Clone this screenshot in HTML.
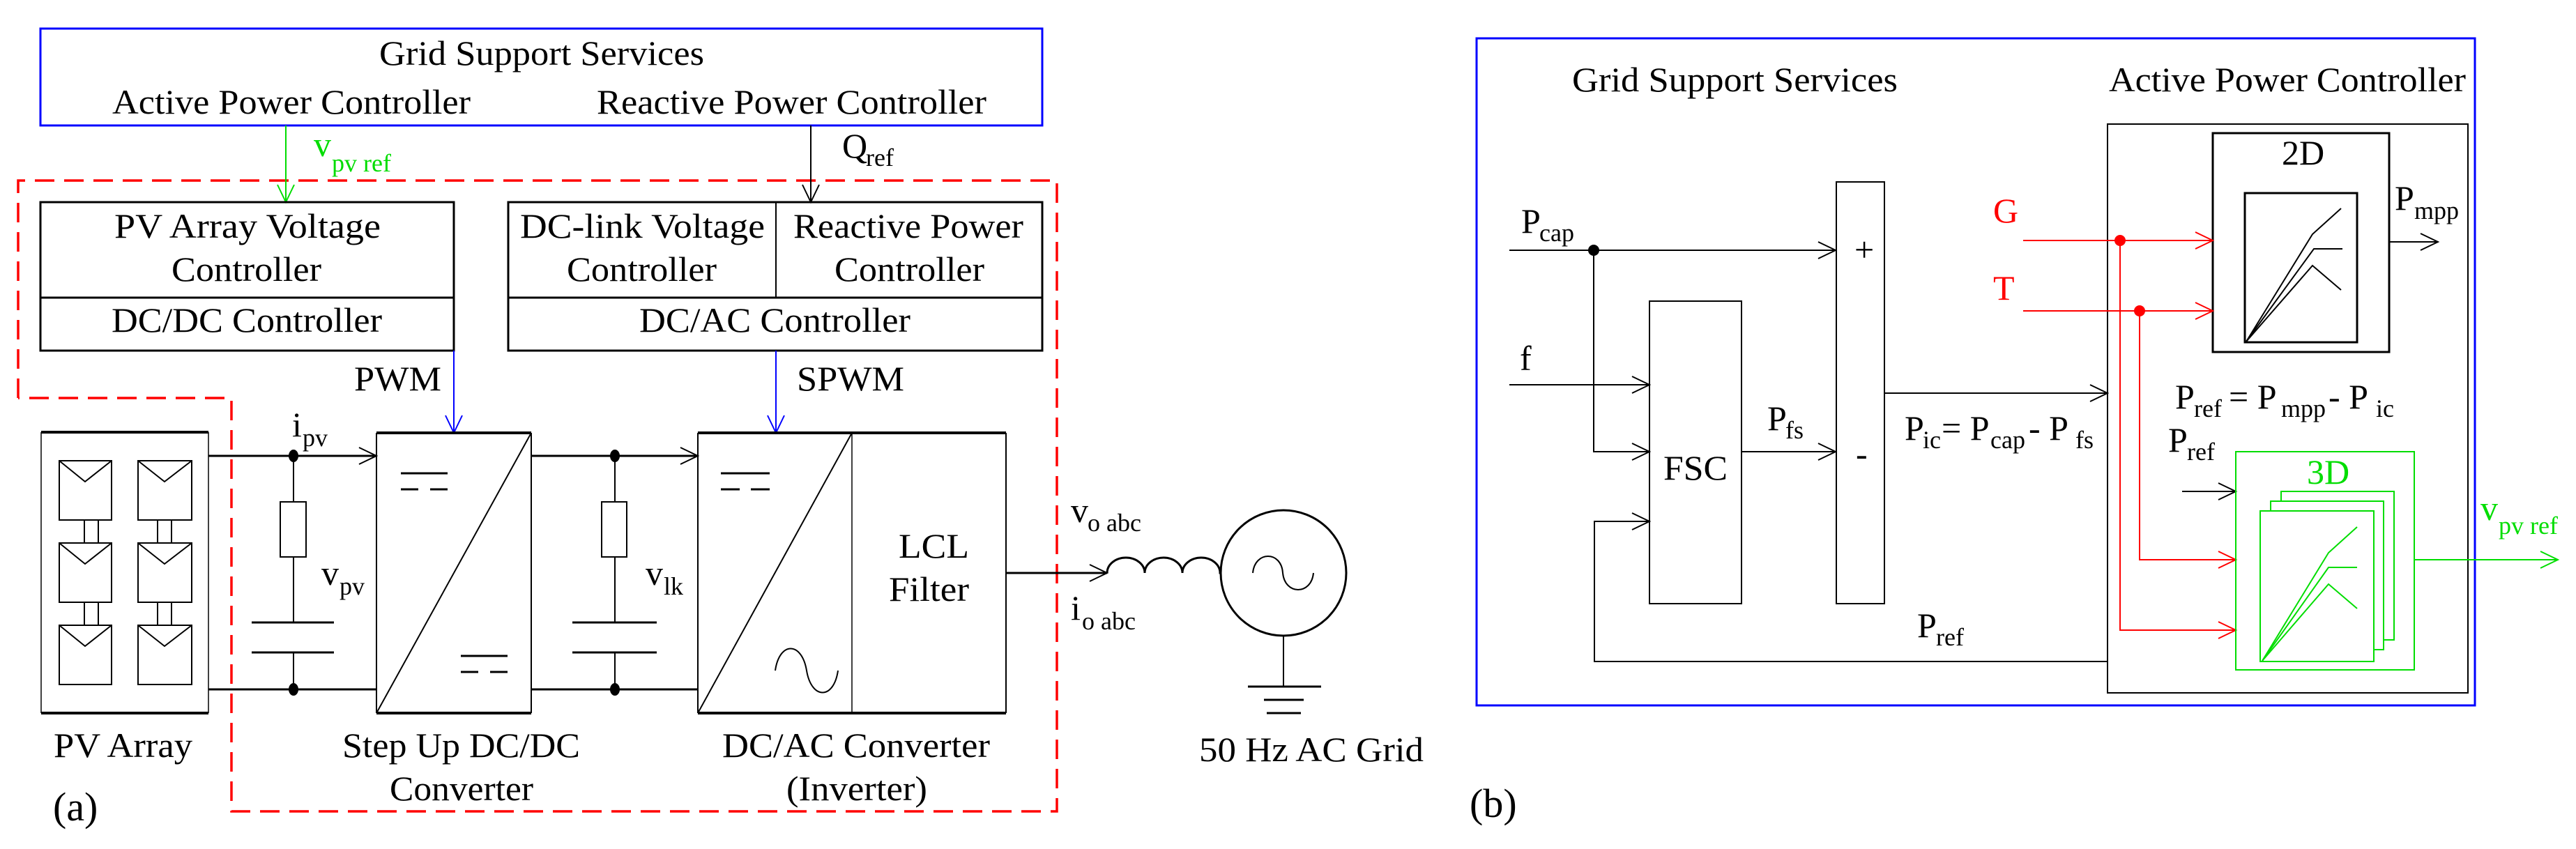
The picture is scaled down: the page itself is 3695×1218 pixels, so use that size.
<!DOCTYPE html>
<html><head><meta charset="utf-8"><style>html,body{margin:0;padding:0;background:#fff}svg{display:block}svg text{font-family:"Liberation Serif","Times New Roman",serif}</style></head>
<body>
<svg width="3695" height="1218" viewBox="0 0 3695 1218" xmlns="http://www.w3.org/2000/svg" style="font-family:'Liberation Serif',serif" font-size="50">
<rect width="3695" height="1218" fill="#fff"/>
<g fill="none" stroke-linecap="butt">
<rect x="58" y="41" width="1437" height="139" stroke="#0000ff" stroke-width="3"/>
<path d="M26 571 V259 H1516 V1164 H332 V571 H26" stroke="#ff0000" stroke-width="3.5" stroke-dasharray="28,14"/>
<line x1="410" y1="180" x2="410" y2="290" stroke="#00dd00" stroke-width="2"/>
<path d="M398 265 L410 290 L422 265" stroke="#00dd00" stroke-width="2"/>
<line x1="1163" y1="180" x2="1163" y2="290" stroke="#000" stroke-width="2"/>
<path d="M1151 265 L1163 290 L1175 265" stroke="#000" stroke-width="2"/>
<rect x="58" y="290" width="593" height="213" stroke="#000" stroke-width="3"/>
<line x1="58" y1="427" x2="651" y2="427" stroke="#000" stroke-width="3"/>
<rect x="729" y="290" width="766" height="213" stroke="#000" stroke-width="3"/>
<line x1="729" y1="427" x2="1495" y2="427" stroke="#000" stroke-width="3"/>
<line x1="1113" y1="290" x2="1113" y2="427" stroke="#000" stroke-width="2"/>
<line x1="651" y1="503" x2="651" y2="621" stroke="#0000ff" stroke-width="2"/>
<path d="M639 596 L651 621 L663 596" stroke="#0000ff" stroke-width="2"/>
<line x1="1113" y1="503" x2="1113" y2="621" stroke="#0000ff" stroke-width="2"/>
<path d="M1101 596 L1113 621 L1125 596" stroke="#0000ff" stroke-width="2"/>
<line x1="59" y1="620" x2="59" y2="1023" stroke="#000" stroke-width="1.5"/>
<line x1="299" y1="620" x2="299" y2="1023" stroke="#000" stroke-width="1.5"/>
<line x1="59" y1="620" x2="299" y2="620" stroke="#000" stroke-width="4"/>
<line x1="59" y1="1023" x2="299" y2="1023" stroke="#000" stroke-width="4"/>
<g stroke="#000" stroke-width="2">
<rect x="85" y="661" width="75" height="85"/><path d="M85 661 L122 691 L160 661"/>
<rect x="85" y="779" width="75" height="85"/><path d="M85 779 L122 809 L160 779"/>
<rect x="85" y="897" width="75" height="85"/><path d="M85 897 L122 927 L160 897"/>
<rect x="198" y="661" width="77" height="85"/><path d="M198 661 L236 691 L275 661"/>
<rect x="198" y="779" width="77" height="85"/><path d="M198 779 L236 809 L275 779"/>
<rect x="198" y="897" width="77" height="85"/><path d="M198 897 L236 927 L275 897"/>
<path d="M121 746 V779 M141 746 V779 M121 864 V897 M141 864 V897"/>
<path d="M226 746 V779 M246 746 V779 M226 864 V897 M246 864 V897"/>
</g>
<g stroke="#000" stroke-width="3">
<line x1="299" y1="654" x2="540" y2="654"/><path d="M515 642 L540 654 L515 666" stroke-width="2"/>
<line x1="299" y1="989" x2="540" y2="989"/>
<line x1="762" y1="654" x2="1001" y2="654"/><path d="M976 642 L1001 654 L976 666" stroke-width="2"/>
<line x1="762" y1="989" x2="1001" y2="989"/>
</g>
<g stroke="#000" stroke-width="2">
<path d="M421 654 V720 M421 799 V893 M421 936 V989"/>
<rect x="402" y="720" width="37" height="79"/>
<path d="M882 654 V720 M882 799 V893 M882 936 V989"/>
<rect x="863" y="720" width="36" height="79"/>
</g>
<g stroke="#000" stroke-width="3">
<path d="M361 893 H479 M361 936 H479 M821 893 H942 M821 936 H942"/>
</g>
<g fill="#000"><ellipse cx="421" cy="654" rx="7" ry="9"/><ellipse cx="421" cy="989" rx="7" ry="9"/><ellipse cx="882" cy="654" rx="7" ry="9"/><ellipse cx="882" cy="989" rx="7" ry="9"/></g>
<g stroke="#000">
<path d="M540 621 V1023 M762 621 V1023" stroke-width="2"/>
<path d="M540 621 H762 M540 1023 H762" stroke-width="4"/>
<line x1="540" y1="1023" x2="762" y2="621" stroke-width="2"/>
<path d="M575 679 H642 M661 941 H728" stroke-width="3"/>
<path d="M575 702 H642 M661 964 H728" stroke-width="3" stroke-dasharray="25,17"/>
<path d="M1001 621 V1023 M1443 621 V1023" stroke-width="2"/>
<path d="M1001 621 H1443 M1001 1023 H1443" stroke-width="4"/>
<line x1="1222" y1="621" x2="1222" y2="1023" stroke-width="1.5"/>
<line x1="1001" y1="1023" x2="1222" y2="621" stroke-width="2"/>
<path d="M1034 679 H1104" stroke-width="3"/>
<path d="M1034 702 H1104" stroke-width="3" stroke-dasharray="27,16"/>
<path d="M1112 962 C1118 920 1150 920 1157 962 C1164 1004 1196 1004 1202 962" stroke-width="2"/>
<line x1="1443" y1="822" x2="1588" y2="822" stroke-width="3"/>
<path d="M1563 810 L1588 822 L1563 834" stroke-width="2"/>
<path d="M1588 822 A27 22 0 0 1 1642 822 A27 22 0 0 1 1696 822 A27 22 0 0 1 1750 822 H1751" stroke-width="3"/>
<circle cx="1841" cy="822" r="90" stroke-width="3"/>
<path d="M1797 822 C1800 790 1838 790 1840 822 C1843 854 1881 854 1884 822" stroke-width="2"/>
<line x1="1841" y1="912" x2="1841" y2="985" stroke-width="2"/>
<path d="M1790 985 H1895 M1813 1004 H1870 M1817 1023 H1866" stroke-width="3"/>
</g>
<rect x="2118" y="55" width="1432" height="957" stroke="#0000ff" stroke-width="3"/>
<rect x="3023" y="178" width="517" height="816" stroke="#000" stroke-width="2"/>
<rect x="3174" y="191" width="253" height="314" stroke="#000" stroke-width="3"/>
<rect x="3220" y="277" width="161" height="214" stroke="#000" stroke-width="3"/>
<g stroke="#000" stroke-width="2">
<path d="M3222 490 L3317 336 L3358 299"/>
<path d="M3222 490 L3319 357 L3360 357"/>
<path d="M3222 490 L3317 381 L3358 416"/>
<line x1="3427" y1="347" x2="3497" y2="347"/><path d="M3472 335 L3497 347 L3472 359"/>
<line x1="2165" y1="359" x2="2633" y2="359"/><path d="M2608 347 L2633 359 L2608 371"/>
<path d="M2286 359 V648 H2366"/><path d="M2341 636 L2366 648 L2341 660"/>
<line x1="2165" y1="552" x2="2366" y2="552"/><path d="M2341 540 L2366 552 L2341 564"/>
<path d="M3023 949 H2287 V748 H2366"/><path d="M2341 736 L2366 748 L2341 760"/>
<rect x="2366" y="432" width="132" height="434"/>
<rect x="2634" y="261" width="69" height="605"/>
<line x1="2498" y1="648" x2="2633" y2="648"/><path d="M2608 636 L2633 648 L2608 660"/>
<line x1="2703" y1="564" x2="3023" y2="564"/><path d="M2998 552 L3023 564 L2998 576"/>
<line x1="3130" y1="705" x2="3207" y2="705"/><path d="M3182 693 L3207 705 L3182 717"/>
</g>
<circle cx="2286" cy="359" r="8" fill="#000"/>
<g stroke="#ff0000" stroke-width="2">
<line x1="2902" y1="345" x2="3174" y2="345"/><path d="M3149 333 L3174 345 L3149 357"/>
<line x1="2902" y1="446" x2="3174" y2="446"/><path d="M3149 434 L3174 446 L3149 458"/>
<path d="M3041 345 V904 H3207"/><path d="M3182 892 L3207 904 L3182 916"/>
<path d="M3069 446 V803 H3207"/><path d="M3182 791 L3207 803 L3182 815"/>
</g>
<circle cx="3041" cy="345" r="8" fill="#ff0000"/>
<circle cx="3069" cy="446" r="8" fill="#ff0000"/>
<g stroke="#00dd00" stroke-width="2">
<rect x="3207" y="648" width="256" height="313"/>
<rect x="3272" y="705" width="162" height="213" fill="#fff"/>
<rect x="3257" y="719" width="162" height="213" fill="#fff"/>
<rect x="3242" y="733" width="163" height="216" fill="#fff"/>
<path d="M3245 948 L3340 793 L3381 756"/>
<path d="M3245 948 L3340 814 L3381 814"/>
<path d="M3245 948 L3340 838 L3381 873"/>
<line x1="3463" y1="803" x2="3669" y2="803"/><path d="M3644 791 L3669 803 L3644 815"/>
</g>
</g>
<g fill="#000">
<text x="544" y="93" textLength="466" lengthAdjust="spacingAndGlyphs">Grid Support Services</text>
<text x="161" y="163" textLength="514" lengthAdjust="spacingAndGlyphs">Active Power Controller</text>
<text x="856" y="163" textLength="559" lengthAdjust="spacingAndGlyphs">Reactive Power Controller</text>
<text x="1208" y="226">Q</text><text x="1242" y="238" font-size="36">ref</text>
<text x="164" y="341" textLength="382" lengthAdjust="spacingAndGlyphs">PV Array Voltage</text>
<text x="246" y="403" textLength="215" lengthAdjust="spacingAndGlyphs">Controller</text>
<text x="160" y="476" textLength="388" lengthAdjust="spacingAndGlyphs">DC/DC Controller</text>
<text x="746" y="341" textLength="351" lengthAdjust="spacingAndGlyphs">DC-link Voltage</text>
<text x="813" y="403" textLength="215" lengthAdjust="spacingAndGlyphs">Controller</text>
<text x="1138" y="341" textLength="330" lengthAdjust="spacingAndGlyphs">Reactive Power</text>
<text x="1197" y="403" textLength="215" lengthAdjust="spacingAndGlyphs">Controller</text>
<text x="917" y="476" textLength="389" lengthAdjust="spacingAndGlyphs">DC/AC Controller</text>
<text x="508" y="560" textLength="125" lengthAdjust="spacingAndGlyphs">PWM</text>
<text x="1143" y="560" textLength="154" lengthAdjust="spacingAndGlyphs">SPWM</text>
<text x="419" y="626">i</text><text x="434" y="640" font-size="36">pv</text>
<text x="461" y="839">v</text><text x="487" y="853" font-size="36">pv</text>
<text x="926" y="839">v</text><text x="952" y="853" font-size="36">lk</text>
<text x="1289" y="800" textLength="101" lengthAdjust="spacingAndGlyphs">LCL</text>
<text x="1275" y="862" textLength="115" lengthAdjust="spacingAndGlyphs">Filter</text>
<text x="1536" y="749">v</text><text x="1560" y="762" font-size="36">o abc</text>
<text x="1536" y="889">i</text><text x="1552" y="903" font-size="36">o abc</text>
<text x="77" y="1086" textLength="199" lengthAdjust="spacingAndGlyphs">PV Array</text>
<text x="491" y="1086" textLength="341" lengthAdjust="spacingAndGlyphs">Step Up DC/DC</text>
<text x="559" y="1148" textLength="206" lengthAdjust="spacingAndGlyphs">Converter</text>
<text x="1036" y="1086" textLength="384" lengthAdjust="spacingAndGlyphs">DC/AC Converter</text>
<text x="1128" y="1148" textLength="202" lengthAdjust="spacingAndGlyphs">(Inverter)</text>
<text x="1720" y="1092" textLength="322" lengthAdjust="spacingAndGlyphs">50 Hz AC Grid</text>
<text x="76" y="1177" font-size="58">(a)</text>
</g>
<g fill="#00dd00">
<text x="450" y="224">v</text><text x="476" y="246" font-size="36">pv ref</text>
</g>
<g fill="#000">
<text x="2255" y="131" textLength="467" lengthAdjust="spacingAndGlyphs">Grid Support Services</text>
<text x="3025" y="131" textLength="512" lengthAdjust="spacingAndGlyphs">Active Power Controller</text>
<text x="3273" y="236">2D</text>
<text x="3435" y="301">P</text><text x="3463" y="314" font-size="36">mpp</text>
<text x="2182" y="334">P</text><text x="2208" y="346" font-size="36">cap</text>
<text x="2180" y="531">f</text>
<text x="2386" y="688" textLength="92" lengthAdjust="spacingAndGlyphs">FSC</text>
<text x="2660" y="375">+</text>
<text x="2662" y="668">-</text>
<text x="2535" y="617">P</text><text x="2561" y="629" font-size="36">fs</text>
<text x="2732" y="631">P</text><text x="2758" y="643" font-size="36">ic</text><text x="2785" y="631">= P</text><text x="2855" y="643" font-size="36">cap</text><text x="2910" y="631">- P</text><text x="2977" y="643" font-size="36">fs</text>
<text x="3120" y="586">P</text><text x="3147" y="598" font-size="36">ref</text><text x="3197" y="586">= P</text><text x="3272" y="598" font-size="36">mpp</text><text x="3340" y="586">- P</text><text x="3408" y="598" font-size="36">ic</text>
<text x="3110" y="648">P</text><text x="3137" y="660" font-size="36">ref</text>
<text x="2750" y="914">P</text><text x="2777" y="926" font-size="36">ref</text>
<text x="2108" y="1172" font-size="58">(b)</text>
</g>
<g fill="#ff0000"><text x="2859" y="319">G</text><text x="2859" y="430">T</text></g>
<g fill="#00dd00">
<text x="3309" y="694">3D</text>
<text x="3558" y="746">v</text><text x="3584" y="766" font-size="36">pv ref</text>
</g>
</svg>
</body></html>
